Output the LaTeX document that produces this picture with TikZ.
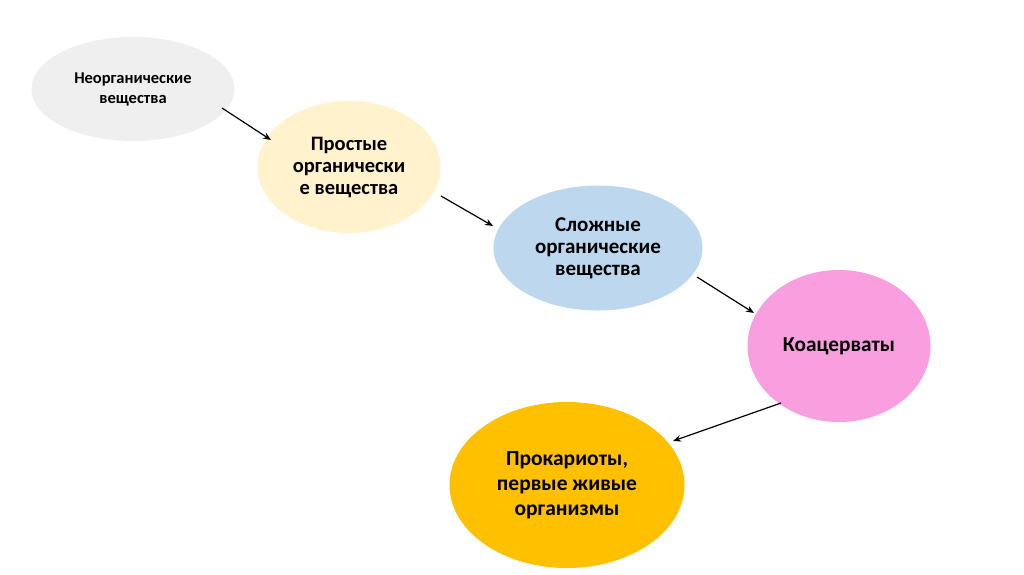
\documentclass[tikz,border=0pt]{standalone}
\usepackage{fontspec}
\setmainfont{Carlito}
\usetikzlibrary{arrows.meta,shapes.geometric}
\definecolor{cgray}{HTML}{EFEFEF}
\definecolor{cyel}{HTML}{FFF2CC}
\definecolor{cblue}{HTML}{BDD7EE}
\definecolor{cpink}{HTML}{F99EDE}
\definecolor{corange}{HTML}{FFC000}
\tikzset{
  blob/.style={ellipse, draw=none, inner sep=0pt, align=center, font=\bfseries},
  conn/.style={-{Stealth[length=8pt,width=6.5pt]}, line width=1.2pt, black},
}
\begin{document}
\begin{tikzpicture}[x=1pt,y=-1pt]
\useasboundingbox (0,0) rectangle (1024,574);
\node[blob, fill=cgray, minimum width=203pt, minimum height=104pt, font=\bfseries\fontsize{16.5}{20}\selectfont] (n1) at (133,89) {Неорганические\\вещества};
\node[blob, fill=cyel, minimum width=183pt, minimum height=132pt, font=\bfseries\fontsize{20.5}{22}\selectfont] (n2) at (349,167) {Простые\\органически\\е вещества};
\node[blob, fill=cblue, minimum width=209pt, minimum height=125pt, font=\bfseries\fontsize{21}{22}\selectfont] (n3) at (598,248) {Сложные\\органические\\вещества};
\node[blob, fill=cpink, minimum width=183pt, minimum height=152pt, font=\bfseries\fontsize{21.3}{23}\selectfont] (n4) at (839,346) {Коацерваты};
\node[blob, fill=corange, minimum width=235pt, minimum height=166pt, font=\bfseries\fontsize{21.5}{25}\selectfont] (n5) at (567,485) {Прокариоты,\\первые живые\\организмы};
\coordinate (a1s) at (222,108); \coordinate (a1e) at (271,140);
\coordinate (a2s) at (441,196); \coordinate (a2e) at (493,226);
\coordinate (a3s) at (697,277); \coordinate (a3e) at (754,313);
\coordinate (a4s) at (781,403); \coordinate (a4e) at (673,441);
\draw[conn] (a1s) -- (a1e);
\draw[conn] (a2s) -- (a2e);
\draw[conn] (a3s) -- (a3e);
\draw[conn] (a4s) -- (a4e);
\end{tikzpicture}
\end{document}
